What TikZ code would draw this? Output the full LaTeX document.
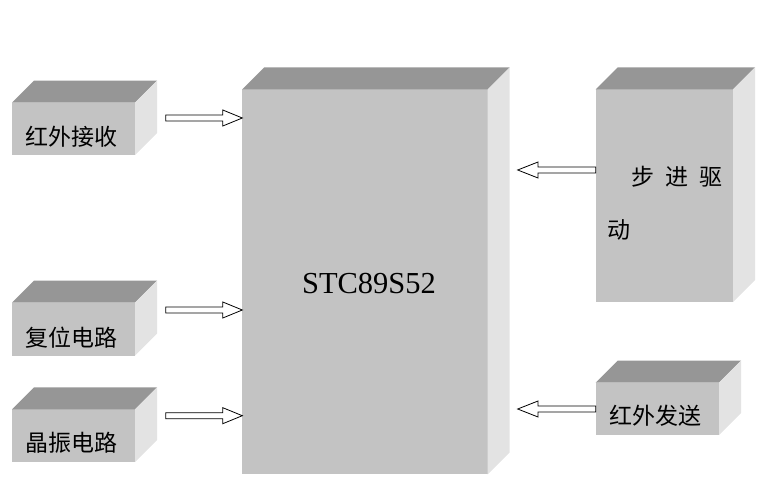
\documentclass[tikz,border=0pt]{standalone}
\usepackage{fontspec}
\setmainfont{Liberation Serif}
\newfontfamily\cjk{Noto Sans CJK SC}
\usetikzlibrary{calc}
\definecolor{frontc}{HTML}{C3C3C3}
\definecolor{topc}{HTML}{969696}
\definecolor{sidec}{HTML}{E3E3E3}
\tikzset{
  face/.style={fill=frontc, draw=none, inner sep=0pt, outer sep=0pt},
  cjklabel/.style={font=\cjk\fontsize{23}{23}\selectfont, inner sep=0pt, text=black},
  blockarrow/.style={draw=black, line width=0.8pt, fill=white, line join=miter,
    to path={let \p1=(\tikztostart), \p2=(\tikztotarget) in
      (\x1,\y1-3pt) -- (\x2-#1,\y1-3pt) -- (\x2-#1,\y1-8pt) -- (\x2,\y1)
      -- (\x2-#1,\y1+8pt) -- (\x2-#1,\y1+3pt) -- (\x1,\y1+3pt) -- cycle}}
}
\newcommand{\boxdepth}[1]{%
  \fill[topc] (#1.north west) -- ($(#1.north west)+(22,-22)$) -- ($(#1.north east)+(22,-22)$) -- (#1.north east) -- cycle;
  \fill[sidec] (#1.north east) -- ($(#1.north east)+(22,-22)$) -- ($(#1.south east)+(22,-22)$) -- (#1.south east) -- cycle;
}
\begin{document}
\begin{tikzpicture}[x=1pt,y=-1pt]
\useasboundingbox (0,0) rectangle (771,481);
% left boxes
\node[face, minimum width=123pt, minimum height=52.3pt] (b1) at (73.5,128.85) {};
\node[face, minimum width=123pt, minimum height=53pt] (b2) at (73.5,329.2) {};
\node[face, minimum width=123pt, minimum height=52.7pt] (b3) at (73.5,435.65) {};
\boxdepth{b1}\boxdepth{b2}\boxdepth{b3}
\node[cjklabel] (t1) at (71.5,137) {红外接收};
\node[cjklabel] (t2) at (71.5,337.5) {复位电路};
\node[cjklabel] (t3) at (71.5,442.5) {晶振电路};
% main box
\node[face, minimum width=245.4pt, minimum height=385pt] (main) at (365,281.8) {};
\boxdepth{main}
\node[font=\fontsize{30.5}{30.5}\selectfont, inner sep=0pt] (mt) at (369,284) {STC89S52};
% right boxes
\node[face, minimum width=137.3pt, minimum height=212.7pt] (r1) at (664.35,195.65) {};
\node[face, minimum width=123.3pt, minimum height=52.3pt] (r2) at (657.35,408.85) {};
\boxdepth{r1}\boxdepth{r2}
\node[cjklabel, anchor=west] (rt1a) at (631,177) {步\hspace{11pt}进\hspace{11pt}驱};
\node[cjklabel, anchor=west] (rt1b) at (607.5,230) {动};
\node[cjklabel] (rt2) at (655,416) {红外发送};
% arrow coordinates
\coordinate (a1s) at (165.7,118);
\coordinate (a2s) at (165.7,310);
\coordinate (a3s) at (165.7,415.7);
\coordinate (a4e) at (517.7,170);
\coordinate (a5e) at (517.7,409);
% arrows
\draw[blockarrow=19.5pt] (a1s) to (main.west |- a1s);
\draw[blockarrow=19.5pt] (a2s) to (main.west |- a2s);
\draw[blockarrow=19.5pt] (a3s) to (main.west |- a3s);
\draw[blockarrow=-20.3pt] (r1.west |- a4e) to (a4e);
\draw[blockarrow=-20.3pt] (r2.west |- a5e) to (a5e);
\end{tikzpicture}
\end{document}
